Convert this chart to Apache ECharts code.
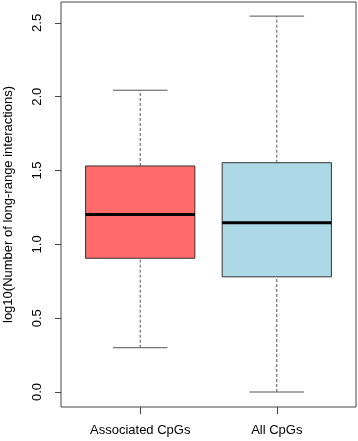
<!DOCTYPE html>
<html>
<head>
<meta charset="utf-8">
<script src="https://cdn.jsdelivr.net/npm/echarts@6/dist/echarts.min.js"></script>
<style>
  html, body { margin: 0; padding: 0; background: #fff; }
  #chart { width: 358px; height: 441px; }
</style>
</head>
<body>
<div id="chart"></div>
<script>
// box statistics
const categories = ['Associated CpGs', 'All CpGs']
const lowWhisker = [0.30, 0.00]
const lowerQuartile = [0.906, 0.78]
const medians = [1.203, 1.146]
const upperQuartile = [1.531, 1.553]
const highWhisker = [2.044, 2.546]
const boxColors = ['#ff6a6a', '#add8e6']
const yTicks = [0, 0.5, 1, 1.5, 2, 2.5]

const font = 'Liberation Sans, Arial, sans-serif'

const boxData = categories.map((c, i) => [
  i + 1, lowWhisker[i], lowerQuartile[i], medians[i], upperQuartile[i], highWhisker[i]
])

function renderBox (params, api) {
  const x = api.value(0)
  const idx = params.dataIndex
  const halfW = api.size([0.8, 0])[0] / 2
  const capW = halfW / 2
  const pLow = api.coord([x, api.value(1)])
  const pQ1 = api.coord([x, api.value(2)])
  const pMed = api.coord([x, api.value(3)])
  const pQ3 = api.coord([x, api.value(4)])
  const pHigh = api.coord([x, api.value(5)])
  const cx = pMed[0]
  const whiskerStyle = { stroke: '#555', lineWidth: 1, lineDash: [3, 2] }
  const capStyle = { stroke: '#555', lineWidth: 1 }
  return {
    type: 'group',
    children: [
      { type: 'line', shape: { x1: cx, y1: pQ3[1], x2: cx, y2: pHigh[1] }, style: whiskerStyle },
      { type: 'line', shape: { x1: cx, y1: pLow[1], x2: cx, y2: pQ1[1] }, style: whiskerStyle },
      { type: 'line', shape: { x1: cx - capW, y1: pHigh[1], x2: cx + capW, y2: pHigh[1] }, style: capStyle },
      { type: 'line', shape: { x1: cx - capW, y1: pLow[1], x2: cx + capW, y2: pLow[1] }, style: capStyle },
      {
        type: 'rect',
        shape: { x: cx - halfW, y: pQ3[1], width: halfW * 2, height: pQ1[1] - pQ3[1] },
        style: { fill: boxColors[idx], stroke: '#333', lineWidth: 1 }
      },
      { type: 'line', shape: { x1: cx - halfW, y1: pMed[1], x2: cx + halfW, y2: pMed[1] }, style: { stroke: '#000', lineWidth: 3 } }
    ]
  }
}

const chart = echarts.init(document.getElementById('chart'))
chart.setOption({
  animation: false,
  grid: {
    left: 61, right: 2, top: 2, bottom: 34,
    outerBoundsMode: 'none',
    containLabel: false,
    show: true, borderColor: '#444', borderWidth: 1, backgroundColor: 'transparent'
  },
  xAxis: {
    type: 'value',
    min: 0.42,
    max: 2.58,
    splitLine: { show: false },
    axisLine: { show: false, onZero: false },
    axisTick: { show: true, length: 7, customValues: [1, 2], lineStyle: { color: '#444' } },
    axisLabel: {
      customValues: [1, 2],
      margin: 17,
      fontFamily: font,
      fontSize: 13,
      color: '#000',
      formatter: v => categories[Math.round(v) - 1] || ''
    }
  },
  yAxis: {
    type: 'value',
    min: -0.1016,
    max: 2.6416,
    splitLine: { show: false },
    axisLine: { show: false, onZero: false },
    axisTick: { show: true, length: 6, customValues: yTicks, lineStyle: { color: '#444' } },
    axisLabel: {
      customValues: yTicks,
      rotate: 90,
      margin: 17,
      fontFamily: font,
      fontSize: 13,
      color: '#000',
      formatter: v => v.toFixed(1)
    },
    name: 'log10(Number of long-range interactions)',
    nameLocation: 'middle',
    nameGap: 46,
    nameTextStyle: { fontFamily: font, fontSize: 13, color: '#000' }
  },
  series: [{
    type: 'custom',
    renderItem: renderBox,
    encode: { x: 0, y: [1, 2, 3, 4, 5] },
    data: boxData
  }]
})
</script>
</body>
</html>
